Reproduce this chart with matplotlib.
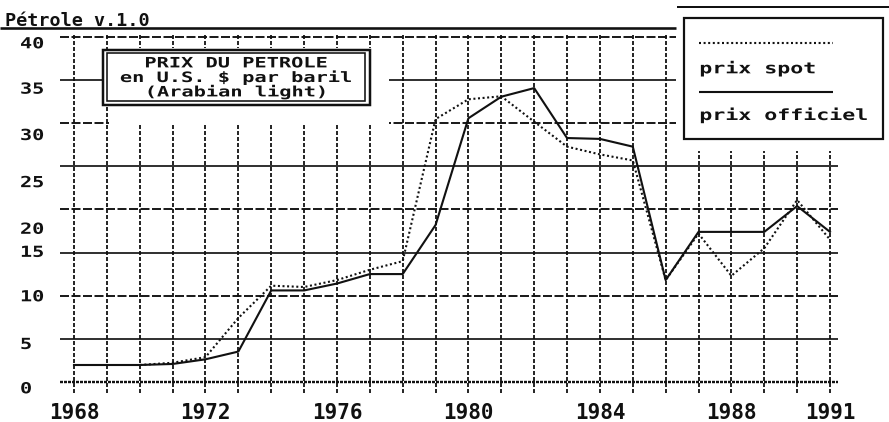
import matplotlib
matplotlib.use("Agg")
import matplotlib.pyplot as plt
from matplotlib.patches import Rectangle
from matplotlib.patheffects import AbstractPathEffect
from matplotlib.transforms import Affine2D, offset_copy

# ---------------- data ----------------
years = list(range(1968, 1992))
prix_officiel = [1.94, 1.94, 1.94, 2.06, 2.6, 3.5, 10.6, 10.6, 11.4, 12.5, 12.5, 18.2,
                 30.6, 33.1, 34.1, 28.3, 28.2, 27.3, 11.8, 17.4, 17.4, 17.4, 20.4, 17.4]
spot_years = list(range(1970, 1992))
prix_spot = [1.94, 2.2, 2.85, 7.4, 11.15, 11.0, 11.8, 13.0, 14.0, 30.5, 32.8, 33.15,
             30.2, 27.3, 26.4, 25.7, 11.8, 17.2, 12.3, 15.5, 21.1, 16.5]
series_names = ["prix spot", "prix officiel"]
y_grid_values = [0, 5, 10, 15, 20, 25, 30, 35, 40]
ytick_labels = ["0", "5", "10", "15", "20", "25", "30", "35", "40"]
xtick_years = [1968, 1972, 1976, 1980, 1984, 1988, 1991]
xtick_labels = ["1968", "1972", "1976", "1980", "1984", "1988", "1991"]
chart_title = "Pétrole v.1.0"
box_lines = ["PRIX DU PETROLE", "en U.S. $ par baril", "(Arabian light)"]

# ---------------- style ----------------
plt.rcParams['lines.scale_dashes'] = False
plt.rcParams['font.family'] = ['DejaVu Sans Mono', 'DejaVu Sans']
plt.rcParams['font.weight'] = 'bold'
INK = '#111111'


class StretchX(AbstractPathEffect):
    """Draw text glyphs horizontally widened (old wide bitmap screen font look)."""
    def __init__(self, sx, anchor='left'):
        super().__init__()
        self.sx = sx
        self.anchor = anchor

    def draw_path(self, renderer, gc, tpath, affine, rgbFace=None):
        cx = 0.0
        if self.anchor == 'center' and len(tpath.vertices):
            xs = tpath.vertices[:, 0]
            cx = 0.5 * (xs.min() + xs.max())
        pre = Affine2D().translate(-cx, 0).scale(self.sx, 1.0).translate(cx, 0)
        renderer.draw_path(gc, tpath, pre + affine, rgbFace)


W, H = 889, 422
K = 72 / 100.0          # px -> pt
X_LEFT, X_RIGHT = 74, 830
Y_ZERO, Y_TOP = 381.7, 37.3

fig = plt.figure(figsize=(W / 100, H / 100), dpi=100)
fig.patch.set_facecolor('white')
ax = fig.add_axes([X_LEFT / W, 1 - Y_ZERO / H, (X_RIGHT - X_LEFT) / W, (Y_ZERO - Y_TOP) / H])
ax.set_xlim(years[0], years[-1])
ax.set_ylim(y_grid_values[0], y_grid_values[-1])
for s in ax.spines.values():
    s.set_visible(False)
ax.patch.set_visible(False)
ax.set_yticks([])
ax.set_xticks(xtick_years, labels=xtick_labels)
ax.tick_params(axis='x', length=0, pad=15.5, labelsize=15, colors=INK)
for lab in ax.get_xticklabels():
    lab.set_fontweight('bold')

px_per_year = (X_RIGHT - X_LEFT) / (years[-1] - years[0])
px_per_unit = (Y_ZERO - Y_TOP) / (y_grid_values[-1] - y_grid_values[0])
x_ext_left = years[0] - (X_LEFT - 60) / px_per_year
x_ext_right = years[-1] + (838 - X_RIGHT) / px_per_year
y_top_ext = y_grid_values[-1] + 2 / px_per_unit
y_bot_ext = y_grid_values[0] - 11.5 / px_per_unit

# horizontal grid
for v in y_grid_values:
    if v == 0:
        kw = dict(lw=2.4 * K, dashes=(3 * K, 1 * K))
    elif v % 10 == 0:
        kw = dict(lw=1.9 * K, dashes=(9 * K, 2.5 * K))
    else:
        kw = dict(lw=1.7 * K, ls='-')
    ax.plot([x_ext_left, x_ext_right], [v, v], color=INK, clip_on=False, zorder=1,
            solid_capstyle='butt', dash_capstyle='butt', **kw)

# vertical grid
for yr in years:
    ax.plot([yr, yr], [y_bot_ext, y_top_ext], color=INK, lw=1.8 * K,
            dashes=(4 * K, 2 * K), clip_on=False, zorder=1, dash_capstyle='butt')

# data
ax.plot(spot_years, prix_spot, color=INK, lw=2.1 * K, dashes=(2 * K, 2.6 * K),
        zorder=3, clip_on=False, label=series_names[0])
ax.plot(years, prix_officiel, color=INK, lw=2.1 * K, zorder=4, clip_on=False,
        label=series_names[1])

# y labels (irregular placement as in the original screen)
ylabel_drop_px = [11.6, 10.3, 5.7, 4.3, 24.3, 20.7, 16.6, 13.3, 11.0]
x_lab = years[0] - (X_LEFT - 20) / px_per_year
for v, lab, d in zip(y_grid_values, ytick_labels, ylabel_drop_px):
    ax.text(x_lab, v, lab,
            transform=offset_copy(ax.transData, fig=fig, x=0, y=-d, units='dots'),
            ha='left', va='baseline', fontsize=11.0, fontweight='bold', color=INK,
            path_effects=[StretchX(1.32, 'left')], clip_on=False)

# ---------------- overlay (pixel coordinates) ----------------
ov = fig.add_axes([0, 0, 1, 1])
ov.set_xlim(0, W)
ov.set_ylim(H, 0)
ov.axis('off')

ov.add_patch(Rectangle((108.5, 48), 280, 76, fc='white', ec='none'))
ov.add_patch(Rectangle((676, 0), W - 676, 151, fc='white', ec='none'))

ov.add_patch(Rectangle((103, 49.5), 266.7, 55.5, fc='white', ec=INK, lw=2.5 * K))
ov.add_patch(Rectangle((106.8, 52.7), 258.4, 48.3, fc='none', ec=INK, lw=1.6 * K))
for line, base in zip(box_lines, [67.4, 82.0, 96.4]):
    ov.text(236, base, line, ha='center', va='baseline', fontsize=10.3, color=INK,
            fontweight='bold', path_effects=[StretchX(1.42, 'center')])

ov.text(5, 26.3, chart_title, ha='left', va='baseline', fontsize=13.2,
        fontweight='bold', color=INK)
ov.plot([0, 676], [28, 28], color=INK, lw=2.6 * K, solid_capstyle='butt')
ov.plot([677, W], [7, 7], color=INK, lw=2 * K, solid_capstyle='butt')

ov.add_patch(Rectangle((684.3, 18.3), 198.5, 121, fc='white', ec=INK, lw=2.2 * K))
ov.plot([699, 833], [42.5, 42.5], color=INK, lw=2.1 * K, dashes=(2 * K, 2.6 * K))
ov.text(699.3, 73.3, series_names[0], ha='left', va='baseline', fontsize=11.1,
        fontweight='bold', color=INK, path_effects=[StretchX(1.40, 'left')])
ov.plot([699, 833], [91.8, 91.8], color=INK, lw=2.1 * K, solid_capstyle='butt')
ov.text(699.3, 120, series_names[1], ha='left', va='baseline', fontsize=11.1,
        fontweight='bold', color=INK, path_effects=[StretchX(1.40, 'left')])

fig.savefig('out.png', dpi=100, facecolor='white')
